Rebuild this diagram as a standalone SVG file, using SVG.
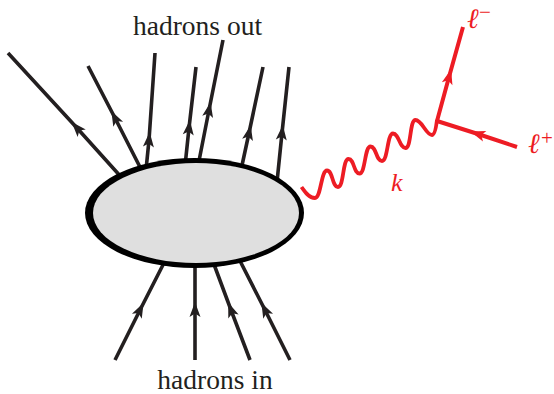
<svg xmlns="http://www.w3.org/2000/svg" width="554" height="394" viewBox="0 0 554 394">
<style>
.h{fill:none;stroke:#231f20;stroke-width:3.6;marker-mid:url(#ak)}
.r{fill:none;stroke:#ed1c24;stroke-width:4;marker-mid:url(#ar)}
.ph{fill:none;stroke:#ed1c24;stroke-width:3.8;stroke-linejoin:round}
.t{font-family:"Liberation Serif","Times New Roman",serif;font-size:27.5px;fill:#231f20}
.lab{font-family:"Liberation Serif","Times New Roman",serif;fill:#ed1c24}
.ell{font-family:"DejaVu Serif","Liberation Serif",serif;font-style:italic;fill:#ed1c24}
.sup{font-family:"Liberation Serif","Times New Roman",serif;font-style:normal;font-size:21px;fill:#ed1c24}
</style>
<defs>
<marker id="ak" markerUnits="userSpaceOnUse" markerWidth="20" markerHeight="20" viewBox="-10 -10 20 20" refX="0" refY="0" orient="auto" overflow="visible">
<path d="M8,0 L-7,-5.5 L-3.5,0 L-7,5.5 Z" fill="#231f20"/>
</marker>
<marker id="ar" markerUnits="userSpaceOnUse" markerWidth="20" markerHeight="20" viewBox="-10 -10 20 20" refX="0" refY="0" orient="auto" overflow="visible">
<path d="M8,0 L-7,-5.5 L-3.5,0 L-7,5.5 Z" fill="#ed1c24"/>
</marker>
</defs>
<g id="connectors">
<path class="h" d="M122,178 L77,128 L8,53"/>
<path class="h" d="M142,171 L115,118 L88,66"/>
<path class="h" d="M146,170 L149,140 L155,53"/>
<path class="h" d="M185,166 L189,128 L196,67"/>
<path class="h" d="M198,166 L209,110 L223,40"/>
<path class="h" d="M241,170 L249,133 L263,67"/>
<path class="h" d="M277,182 L282,133 L289,67"/>
<path class="h" d="M115,360 L140,310 L166,259"/>
<path class="h" d="M195,360 L195,310 L195,260"/>
<path class="h" d="M250,360 L231,310 L212,259"/>
<path class="h" d="M290,360 L265,310 L238,257"/>
</g>
<g id="blob">
<ellipse cx="194.5" cy="213" rx="109.5" ry="55" fill="#000"/>
<ellipse cx="196" cy="213" rx="103" ry="50" fill="#dfdfdf"/>
</g>
<g id="photon">
<path class="ph" d="M301.5,187 C305,192 309,198 315,198 C321,198 321,170.5 327,170.5 C333,170.5 332,187 338,187 C344,187 342.5,159 348.5,159 C354.5,159 353.5,173.5 359.5,173.5 C365.5,173.5 364.5,146.5 370.5,146.5 C376.5,146.5 376,161 382,161 C388,161 387,133.5 393,133.5 C399,133.5 399.5,148 405.5,148 C411.5,148 409.5,120 415.5,120 C422,120 426,135 432,135 C435,135 436.5,124 437,120"/>
</g>
<g id="leptons">
<path class="r" d="M437,121 L449,77 L463,27"/>
<path class="r" d="M517,147 L478,134 L437,121"/>
</g>
<g id="labels">
<text class="t" x="197.5" y="35" text-anchor="middle">hadrons out</text>
<text class="t" x="215" y="389" text-anchor="middle">hadrons in</text>
<text class="lab" x="391" y="191" font-size="26" font-style="italic">k</text>
<text class="ell" x="467" y="28" font-size="28">ℓ<tspan class="sup" x="479" y="19">−</tspan></text>
<text class="ell" x="528" y="153" font-size="28">ℓ<tspan class="sup" x="541" y="145">+</tspan></text>
</g>
</svg>
